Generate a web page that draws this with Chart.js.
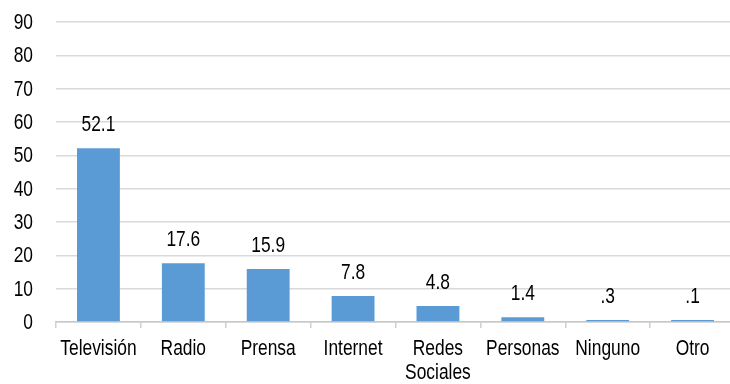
<!DOCTYPE html>
<html>
<head>
<meta charset="utf-8">
<script src="https://cdn.jsdelivr.net/npm/chart.js@4/dist/chart.umd.min.js"></script>
<style>
  html, body { margin: 0; padding: 0; background: #fff; overflow: hidden; }
  #wrap { width: 730px; height: 384px; overflow: hidden; }
  canvas { display: block; }
</style>
</head>
<body>
<div id="wrap"><canvas id="c" width="736" height="384"></canvas></div>
<script>
// Medio de información (porcentaje)
const categories = ['Televisión', 'Radio', 'Prensa', 'Internet', ['Redes', 'Sociales'], 'Personas', 'Ninguno', 'Otro'];
const values = [52.1, 17.6, 15.9, 7.8, 4.8, 1.4, 0.3, 0.1];
const yTicks = [0, 10, 20, 30, 40, 50, 60, 70, 80, 90];

const FAMILY = '"Liberation Sans", Arial, sans-serif';
const SIZE = 22;
const SQUEEZE = 0.79;   // narrow (condensed) lettering

function narrowText(ctx, txt, x, y, align) {
  ctx.save();
  ctx.translate(x, y);
  ctx.scale(SQUEEZE, 1);
  ctx.textAlign = align;
  ctx.fillText(txt, 0, 0);
  ctx.restore();
}

// axis labels and value labels, drawn in condensed lettering
const narrowLabels = {
  id: 'narrowLabels',
  afterDraw(chart) {
    const ctx = chart.ctx;
    const xs = chart.scales.x, ys = chart.scales.y;
    ctx.save();
    ctx.font = SIZE + 'px ' + FAMILY;
    ctx.fillStyle = '#000';
    ctx.textBaseline = 'middle';

    yTicks.forEach(v => {
      narrowText(ctx, String(v), 33, ys.getPixelForValue(v) + 1, 'right');
    });

    categories.forEach((c, i) => {
      const lines = Array.isArray(c) ? c : [c];
      const x = xs.getPixelForTick(i);
      lines.forEach((ln, k) => narrowText(ctx, ln, x, xs.top + 27 + k * 24, 'center'));
    });

    const meta = chart.getDatasetMeta(0);
    meta.data.forEach((bar, i) => {
      const txt = values[i].toFixed(1).replace(/^0\./, '.');
      narrowText(ctx, txt, bar.x, bar.y - 23, 'center');
    });
    ctx.restore();
  }
};

new Chart(document.getElementById('c'), {
  type: 'bar',
  data: {
    labels: categories,
    datasets: [{
      data: values,
      backgroundColor: '#5B9BD5',
      borderWidth: 0,
      categoryPercentage: 1,
      barPercentage: 0.505,
      minBarLength: 2
    }]
  },
  options: {
    responsive: false,
    animation: false,
    layout: { padding: { left: 0, right: 1, top: 22, bottom: 0 } },
    plugins: { legend: { display: false }, tooltip: { enabled: false }, title: { display: false } },
    scales: {
      x: {
        offset: true,
        grid: { display: true, drawOnChartArea: false, drawTicks: true, tickLength: 6, color: '#d0d0d0', lineWidth: 1.5 },
        border: { display: true, color: '#c8c8c8', width: 1.5 },
        ticks: { color: 'rgba(0,0,0,0)', font: { family: FAMILY, size: SIZE, lineHeight: 1.1 }, padding: 10, maxRotation: 0, autoSkip: false },
        afterFit(scale) { scale.height = 62; scale.paddingLeft = 0; scale.paddingRight = 0; }
      },
      y: {
        min: 0,
        max: 90,
        afterBuildTicks(scale) { scale.ticks = yTicks.map(v => ({ value: v })); },
        grid: { color: '#d9d9d9', lineWidth: 1.5, drawTicks: false },
        border: { display: false },
        ticks: { color: 'rgba(0,0,0,0)', font: { family: FAMILY, size: SIZE }, padding: 23 },
        afterFit(scale) { scale.width = 56; scale.paddingTop = 0; scale.paddingBottom = 0; }
      }
    }
  },
  plugins: [narrowLabels]
});
</script>
</body>
</html>
